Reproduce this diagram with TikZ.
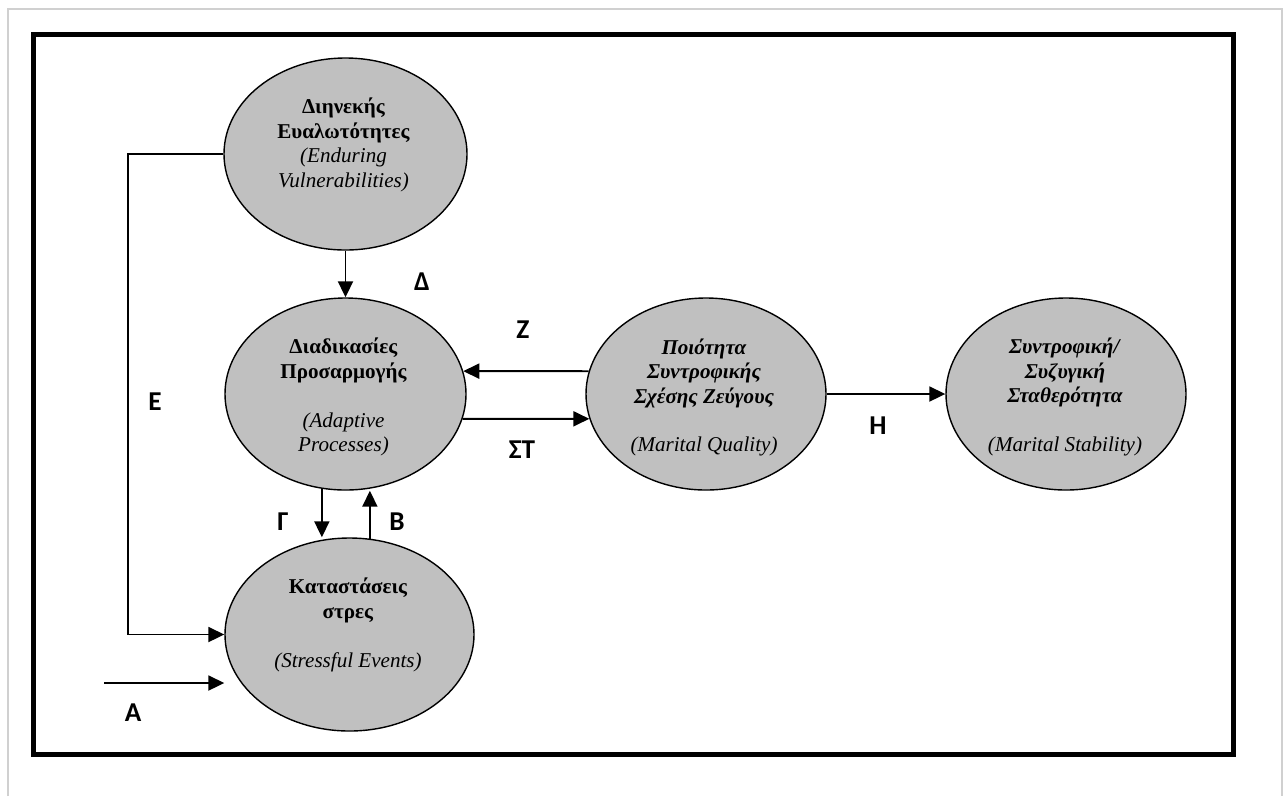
\documentclass[tikz,border=0pt]{standalone}
\usepackage{fontspec}
\setmainfont{Liberation Serif}
\newfontfamily\lblfont{Carlito}
\usetikzlibrary{arrows.meta,shapes.geometric}
\definecolor{ovalgray}{RGB}{192,192,192}
\definecolor{pagegray}{RGB}{208,208,208}

\begin{document}
\begin{tikzpicture}[
  blob/.style={draw, ellipse, fill=ovalgray, line width=0.8pt, inner sep=0pt},
  blobtext/.style={align=center, font=\fontsize{12}{13.9}\selectfont},
  tag/.style={font=\lblfont\bfseries\fontsize{15.5}{18}\selectfont},
  arr/.style={line width=1.1pt, -{Triangle[length=0.32cm, width=0.3cm]}}
]
\useasboundingbox (0,0) rectangle (25.76,-15.92);
\draw[pagegray, line width=1.1pt] (0.16,-15.92) -- (0.16,-0.18) -- (25.64,-0.18) -- (25.64,-15.92);
\draw[line width=2.85pt] (0.67,-0.68) rectangle (24.66,-15.09);

\node[blob, minimum width=4.86cm, minimum height=3.84cm] (vul) at (6.91,-3.08) {};
\node[blob, minimum width=4.82cm, minimum height=3.84cm] (adapt) at (6.91,-7.88) {};
\node[blob, minimum width=4.98cm, minimum height=3.86cm] (stress) at (6.99,-12.69) {};
\node[blob, minimum width=4.80cm, minimum height=3.84cm] (quality) at (14.12,-7.88) {};
\node[blob, minimum width=4.80cm, minimum height=3.84cm] (stab) at (21.32,-7.88) {};

\node[blobtext] (vultext) at (6.87,-2.90) {\textbf{Διηνεκής}\\\textbf{Ευαλωτότητες}\\\textit{(Enduring}\\\textit{Vulnerabilities)}};
\node[blobtext] (adapttext) at (6.87,-7.94) {\textbf{Διαδικασίες}\\\textbf{Προσαρμογής}\\[13.9pt]\textit{(Adaptive}\\\textit{Processes)}};
\node[blobtext] (stresstext) at (6.96,-12.50) {\textbf{Καταστάσεις}\\\textbf{στρες}\\[13.9pt]\textit{(Stressful Events)}};
\node[blobtext] (qualitytext) at (14.08,-7.95) {\textbf{\textit{Ποιότητα}}\\\textbf{\textit{Συντροφικής}}\\\textbf{\textit{Σχέσης Ζεύγους}}\\[13.9pt]\textit{(Marital Quality)}};
\node[blobtext] (stabtext) at (21.30,-7.94) {\textbf{\textit{Συντροφική/}}\\\textbf{\textit{Συζυγική}}\\\textbf{\textit{Σταθερότητα}}\\[13.9pt]\textit{(Marital Stability)}};

\draw[arr] (vul.south) -- (adapt.north);
\draw[arr] (quality.169) -- (adapt.11);
\draw[arr] (adapt.-12) -- (quality.192);
\draw[arr] (quality.east) -- (stab.west);
\draw[arr] (adapt.-104.6) -- (adapt.-104.6 |- stress.north);
\draw[arr] (stress.78.4) -- (stress.78.4 |- adapt.south);
\draw[arr] (vul.west) -- ++(-1.9,0) |- (stress.west);
\coordinate (astart) at (2.08,-13.66);
\draw[arr] (astart) -- (astart -| stress.west);

\node[tag] (lblA) at (2.66,-14.26) {Α};
\node[tag] (lblB) at (7.94,-10.44) {Β};
\node[tag] (lblG) at (5.66,-10.44) {Γ};
\node[tag] (lblD) at (8.44,-5.64) {Δ};
\node[tag] (lblE) at (3.10,-8.04) {Ε};
\node[tag] (lblST) at (10.44,-9.00) {ΣΤ};
\node[tag] (lblZ) at (10.46,-6.60) {Ζ};
\node[tag] (lblH) at (17.56,-8.52) {Η};
\end{tikzpicture}
\end{document}
